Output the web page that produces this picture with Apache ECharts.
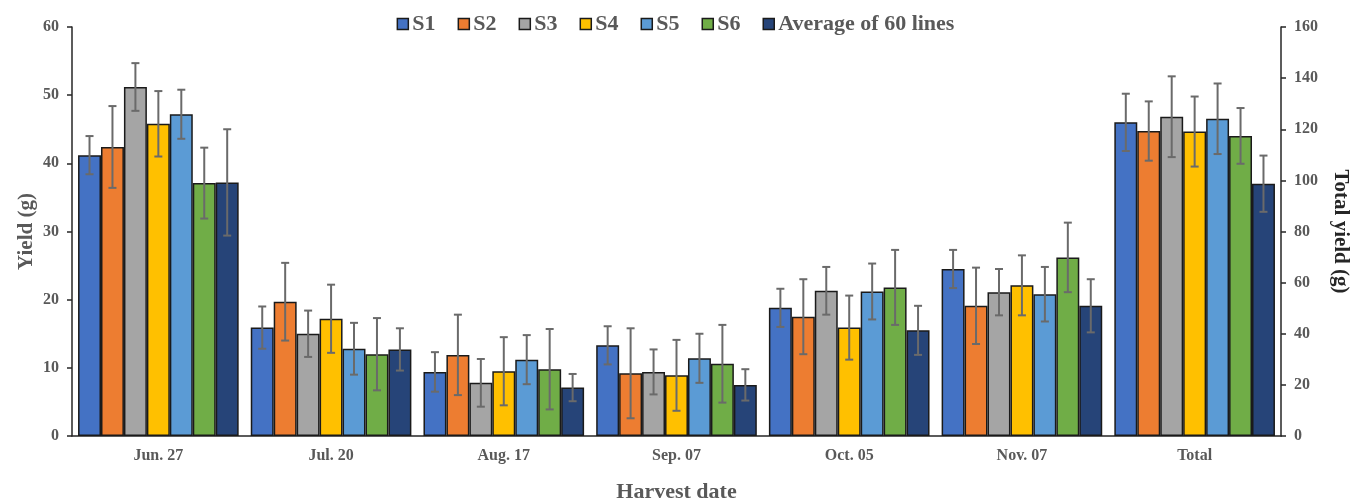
<!DOCTYPE html>
<html>
<head>
<meta charset="utf-8">
<script src="https://cdn.jsdelivr.net/npm/echarts@6/dist/echarts.min.js"></script>
<style>
  html, body { margin: 0; padding: 0; background: #fff; }
  #chart { width: 1351px; height: 503px; }
</style>
</head>
<body>
<div id="chart"></div>
<script>
// Harvest dates (left axis) plus the season total (right axis)
const categories = ['Jun. 27', 'Jul. 20', 'Aug. 17', 'Sep. 07', 'Oct. 05', 'Nov. 07', 'Total'];
const seriesNames = ['S1', 'S2', 'S3', 'S4', 'S5', 'S6', 'Average of 60 lines'];
const seriesColors = ['#4472C4', '#ED7D31', '#A5A5A5', '#FFC000', '#5B9BD5', '#70AD47', '#264478'];

// Yield per harvest date (g), one array per line
const yieldS1  = [41.2, 15.9,  9.4, 13.3, 18.8, 24.5];
const yieldS2  = [42.4, 19.7, 11.9,  9.2, 17.5, 19.1];
const yieldS3  = [51.2, 15.0,  7.8,  9.4, 21.3, 21.1];
const yieldS4  = [45.8, 17.2,  9.5,  8.9, 15.9, 22.1];
const yieldS5  = [47.2, 12.8, 11.2, 11.4, 21.2, 20.8];
const yieldS6  = [37.1, 12.0,  9.8, 10.6, 21.8, 26.2];
const yieldAvg = [37.2, 12.7,  7.1,  7.5, 15.5, 19.1];

// Standard deviations per harvest date (g)
const errS1  = [2.8, 3.1, 2.9, 2.8, 2.8, 2.8];
const errS2  = [6.0, 5.7, 5.9, 6.6, 5.5, 5.6];
const errS3  = [3.5, 3.4, 3.5, 3.3, 3.5, 3.4];
const errS4  = [4.8, 5.0, 5.0, 5.2, 4.7, 4.4];
const errS5  = [3.6, 3.8, 3.6, 3.6, 4.1, 4.0];
const errS6  = [5.2, 5.3, 5.9, 5.7, 5.5, 5.1];
const errAvg = [7.8, 3.1, 2.0, 2.3, 3.6, 3.9];

// Total yield (g) and its standard deviation, same line order
const totalYield = [122.7, 119.3, 124.9, 119.1, 124.1, 117.4, 98.7];
const totalErr   = [11.2, 11.6, 15.8, 13.7, 13.8, 10.9, 11.0];

// Left axis ticks and right axis ticks
const leftTicks  = { min: 0, max: 60, interval: 10 };
const rightTicks = { min: 0, max: 160, interval: 20 };

const yieldBySeries = [yieldS1, yieldS2, yieldS3, yieldS4, yieldS5, yieldS6, yieldAvg];
const errBySeries = [errS1, errS2, errS3, errS4, errS5, errS6, errAvg];

const FONT = 'Liberation Serif';
const GREY = '#595959';
const DARK = '#262626';
const CAT_GAP = 0.07;
const N = seriesNames.length;

const series = [];

// Harvest-date bars on the first x axis / left y axis
seriesNames.forEach((name, i) => {
  series.push({
    name: name,
    type: 'bar',
    xAxisIndex: 0,
    yAxisIndex: 0,
    barGap: 0,
    barCategoryGap: (CAT_GAP * 100) + '%',
    data: categories.map((c, k) => k < 6 ? yieldBySeries[i][k] : '-'),
    itemStyle: { color: seriesColors[i], borderColor: '#1a1a1a', borderWidth: 1.5 }
  });
});

// Total bars on the second x axis / right y axis
seriesNames.forEach((name, i) => {
  series.push({
    name: name,
    type: 'bar',
    xAxisIndex: 1,
    yAxisIndex: 1,
    barGap: 0,
    barCategoryGap: (CAT_GAP * 100) + '%',
    data: categories.map((c, k) => k === 6 ? totalYield[i] : '-'),
    itemStyle: { color: seriesColors[i], borderColor: '#1a1a1a', borderWidth: 1.5 }
  });
});

// Error bars drawn with a custom series, shifted to each bar's slot
function errorRenderer(params, api) {
  const cat = api.value(0);
  const lo = api.value(1);
  const hi = api.value(2);
  const slot = api.value(3);
  const band = api.size([1, 0])[0];
  const bw = band * (1 - CAT_GAP) / N;
  const off = (slot - (N - 1) / 2) * bw;
  const pHi = api.coord([cat, hi]);
  const pLo = api.coord([cat, lo]);
  const x = pHi[0] + off;
  const cap = 4;
  const style = { stroke: '#6a6a6a', lineWidth: 2 };
  return {
    type: 'group',
    children: [
      { type: 'line', shape: { x1: x, y1: pHi[1], x2: x, y2: pLo[1] }, style: style },
      { type: 'line', shape: { x1: x - cap, y1: pHi[1], x2: x + cap, y2: pHi[1] }, style: style },
      { type: 'line', shape: { x1: x - cap, y1: pLo[1], x2: x + cap, y2: pLo[1] }, style: style }
    ]
  };
}

const harvestErrData = [];
yieldBySeries.forEach((vals, i) => {
  vals.forEach((v, k) => {
    harvestErrData.push([k, v - errBySeries[i][k], v + errBySeries[i][k], i]);
  });
});
const totalErrData = totalYield.map((v, i) => [6, v - totalErr[i], v + totalErr[i], i]);

series.push({
  type: 'custom',
  xAxisIndex: 0,
  yAxisIndex: 0,
  renderItem: errorRenderer,
  encode: { x: 0, y: [1, 2] },
  data: harvestErrData,
  z: 10,
  silent: true
});
series.push({
  type: 'custom',
  xAxisIndex: 1,
  yAxisIndex: 1,
  renderItem: errorRenderer,
  encode: { x: 0, y: [1, 2] },
  data: totalErrData,
  z: 10,
  silent: true
});

const chart = echarts.init(document.getElementById('chart'), null, { renderer: 'canvas' });

chart.setOption({
  animation: false,
  backgroundColor: '#ffffff',
  textStyle: { fontFamily: FONT },
  legend: {
    data: seriesNames,
    top: 8,
    left: 'center',
    icon: 'rect',
    itemWidth: 11,
    itemHeight: 11,
    itemGap: 22,
    itemStyle: { borderColor: '#1a1a1a', borderWidth: 1.5 },
    textStyle: { fontFamily: FONT, fontWeight: 'bold', fontSize: 22, color: GREY, padding: [0, 0, 0, -1] }
  },
  grid: { left: 72, right: 70, top: 27, bottom: 67, containLabel: false, outerBoundsMode: 'none' },
  xAxis: [
    {
      type: 'category',
      data: categories,
      gridIndex: 0,
      name: 'Harvest date',
      nameLocation: 'middle',
      nameGap: 45,
      nameTextStyle: { fontFamily: FONT, fontWeight: 'bold', fontSize: 22, color: GREY },
      axisLine: { show: true, lineStyle: { color: DARK, width: 1.5 } },
      axisTick: { show: false },
      axisLabel: { fontFamily: FONT, fontWeight: 'bold', fontSize: 16, color: GREY, margin: 12 },
      splitLine: { show: false }
    },
    {
      type: 'category',
      data: categories,
      gridIndex: 0,
      show: false
    }
  ],
  yAxis: [
    {
      type: 'value',
      min: leftTicks.min,
      max: leftTicks.max,
      interval: leftTicks.interval,
      position: 'left',
      name: 'Yield (g)',
      nameLocation: 'middle',
      nameRotate: 90,
      nameGap: 35,
      nameMoveOverlap: false,
      nameTextStyle: { fontFamily: FONT, fontWeight: 'bold', fontSize: 21, color: GREY },
      axisLine: { show: true, lineStyle: { color: DARK, width: 1.5 } },
      axisTick: { show: true, inside: false, length: 5, lineStyle: { color: DARK, width: 1.5 } },
      axisLabel: { fontFamily: FONT, fontWeight: 'bold', fontSize: 16, color: GREY, margin: 13 },
      splitLine: { show: false }
    },
    {
      type: 'value',
      min: rightTicks.min,
      max: rightTicks.max,
      interval: rightTicks.interval,
      position: 'right',
      name: 'Total yield (g)',
      nameLocation: 'middle',
      nameRotate: -90,
      nameGap: 49,
      nameTextStyle: { fontFamily: FONT, fontWeight: 'bold', fontSize: 21, color: DARK },
      axisLine: { show: true, lineStyle: { color: DARK, width: 1.5 } },
      axisTick: { show: true, inside: false, length: 5, lineStyle: { color: DARK, width: 1.5 } },
      axisLabel: { fontFamily: FONT, fontWeight: 'bold', fontSize: 16, color: GREY, margin: 13 },
      splitLine: { show: false }
    }
  ],
  series: series
});
</script>
</body>
</html>
